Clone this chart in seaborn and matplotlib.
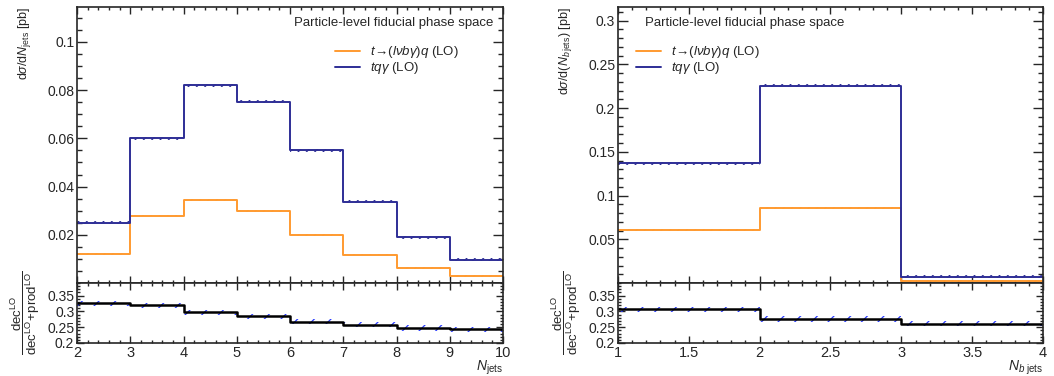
import numpy as np
import matplotlib
matplotlib.use("Agg")
import matplotlib.pyplot as plt
import seaborn as sns
from matplotlib.ticker import MultipleLocator, FuncFormatter
from matplotlib.lines import Line2D

# --- data -----------------------------------------------------------------
njets_edges = [2, 3, 4, 5, 6, 7, 8, 9, 10]
njets_dec = [0.0121, 0.0280, 0.0345, 0.0298, 0.0200, 0.0118, 0.0063, 0.0030]
njets_prod = [0.0250, 0.0600, 0.0820, 0.0752, 0.0550, 0.0338, 0.0189, 0.0096]
njets_ratio = [0.326, 0.319, 0.297, 0.284, 0.268, 0.258, 0.248, 0.243]

nbjets_edges = [1, 2, 3, 4]
nbjets_dec = [0.0605, 0.0860, 0.0025]
nbjets_prod = [0.1370, 0.2256, 0.0070]
nbjets_ratio = [0.307, 0.276, 0.261]

label_dec = r"$t\!\rightarrow\!(l\nu b\gamma)q$ (LO)"
label_prod = r"$tq\gamma$ (LO)"
phase_space_text = "Particle-level fiducial phase space"

ORANGE = "#ff9a30"
NAVY = "#2e2e96"
HATCH_BLUE = "#2a3cff"

# --- style ----------------------------------------------------------------
sns.set_style("ticks")
plt.rcParams["font.family"] = ["Liberation Sans", "DejaVu Sans"]
plt.rcParams["mathtext.fontset"] = "custom"
plt.rcParams["mathtext.rm"] = "Liberation Sans"
plt.rcParams["mathtext.it"] = "Liberation Sans:italic"
plt.rcParams["mathtext.bf"] = "Liberation Sans:bold"
plt.rcParams["hatch.linewidth"] = 0.9
plt.rcParams["axes.linewidth"] = 1.2

fig = plt.figure(figsize=(10.54, 3.76), dpi=100)


def step_line(ax, edges, vals, color, lw):
    x = np.asarray(edges, float)
    y = np.append(np.asarray(vals, float), vals[-1])
    sns.lineplot(x=x, y=y, ax=ax, color=color, lw=lw, drawstyle="steps-post",
                 estimator=None, sort=False, legend=False)


def band(ax, edges, vals, half, color, hatch="////"):
    y = np.append(np.asarray(vals, float), vals[-1])
    ax.fill_between(edges, y - half, y + half, step="post", facecolor="none",
                    edgecolor=color, hatch=hatch, linewidth=0)


def style_axis(ax, xmaj, xmin, ymaj, ymin, ymaj_len, ymin_len, xmaj_len, xmin_len):
    ax.xaxis.set_major_locator(MultipleLocator(xmaj))
    ax.xaxis.set_minor_locator(MultipleLocator(xmin))
    ax.yaxis.set_major_locator(MultipleLocator(ymaj))
    ax.yaxis.set_minor_locator(MultipleLocator(ymin))
    ax.tick_params(axis="both", which="both", direction="in", top=True, right=True,
                   width=1.0, labelsize=10, pad=2)
    ax.tick_params(axis="y", which="major", length=ymaj_len)
    ax.tick_params(axis="y", which="minor", length=ymin_len)
    ax.tick_params(axis="x", which="major", length=xmaj_len)
    ax.tick_params(axis="x", which="minor", length=xmin_len)
    for s in ax.spines.values():
        s.set_visible(True)
        s.set_linewidth(1.2)


def fmt_tick(v, pos=None):
    return f"{v:.3f}".rstrip("0").rstrip(".")


def panel(x0, width, edges, dec, prod, ratio, ymax, ymaj, ymin, xmaj, xmin,
          main_half, ylabel, xlabel, text_x, text_ha, leg_x):
    main = fig.add_axes([x0, 0.2473, width, 0.9814 - 0.2473])
    rat = fig.add_axes([x0, 0.0878, width, 0.2473 - 0.0878], sharex=main)

    band(main, edges, prod, main_half, NAVY)
    band(main, edges, dec, main_half * 0.6, ORANGE)
    step_line(main, edges, dec, ORANGE, 1.4)
    step_line(main, edges, prod, NAVY, 1.4)

    main.set_xlim(edges[0], edges[-1])
    main.set_ylim(0, ymax)
    style_axis(main, xmaj, xmin, ymaj, ymin, 7, 3.5, 5, 2.5)
    main.tick_params(axis="x", labelbottom=False)
    main.yaxis.set_major_formatter(
        FuncFormatter(lambda v, p: "" if abs(v) < 1e-9 else fmt_tick(v)))
    main.set_xlabel("")
    main.set_ylabel(ylabel, loc="top", fontsize=9, labelpad=10)

    main.text(text_x, 0.942, phase_space_text, transform=main.transAxes,
              ha=text_ha, va="center", fontsize=9.5)
    handles = [Line2D([], [], color=ORANGE, lw=1.4), Line2D([], [], color=NAVY, lw=1.4)]
    main.legend(handles, [label_dec, label_prod], loc="upper left",
                bbox_to_anchor=(leg_x, 0.865), frameon=False, fontsize=9.5,
                handlelength=1.9, handletextpad=0.8, borderpad=0, labelspacing=0.0,
                borderaxespad=0)

    band(rat, edges, ratio, 0.0085, HATCH_BLUE, hatch="//")
    step_line(rat, edges, ratio, "black", 1.8)
    rat.set_ylim(0.2, 0.39)
    style_axis(rat, xmaj, xmin, 0.05, 0.01, 5, 2.5, 5, 2.5)
    rat.yaxis.set_major_formatter(FuncFormatter(lambda v, p: fmt_tick(v)))
    rat.xaxis.set_major_formatter(FuncFormatter(lambda v, p: fmt_tick(v)))
    rat.tick_params(axis="x", which="major", labelsize=10.5, pad=2)
    rat.set_ylabel(r"$\dfrac{\mathrm{dec}^{\mathrm{LO}}}{\mathrm{dec}^{\mathrm{LO}}\!+\!\mathrm{prod}^{\mathrm{LO}}}$",
                   fontsize=9.5, labelpad=4)
    rat.set_xlabel(xlabel, fontsize=10)
    rat.xaxis.set_label_coords(1.0, -0.26)
    rat.xaxis.label.set_ha("right")
    return main, rat


panel(0.0731, 0.4042, njets_edges, njets_dec, njets_prod, njets_ratio,
      0.1145, 0.02, 0.005, 1, 0.2, 0.0006,
      r"d$\sigma$/d$\mathit{N}_{\mathrm{jets}}$ [pb]",
      r"$\mathit{N}_{\mathrm{jets}}$",
      0.977, "right", 0.605)

panel(0.5863, 0.4033, nbjets_edges, nbjets_dec, nbjets_prod, nbjets_ratio,
      0.3157, 0.05, 0.01, 0.5, 0.1, 0.0016,
      r"d$\sigma$/d($\mathit{N}_{\mathit{b}\,\mathrm{jets}}$) [pb]",
      r"$\mathit{N}_{\mathit{b}\ \mathrm{jets}}$",
      0.064, "left", 0.042)

fig.savefig("out.png", dpi=100)
